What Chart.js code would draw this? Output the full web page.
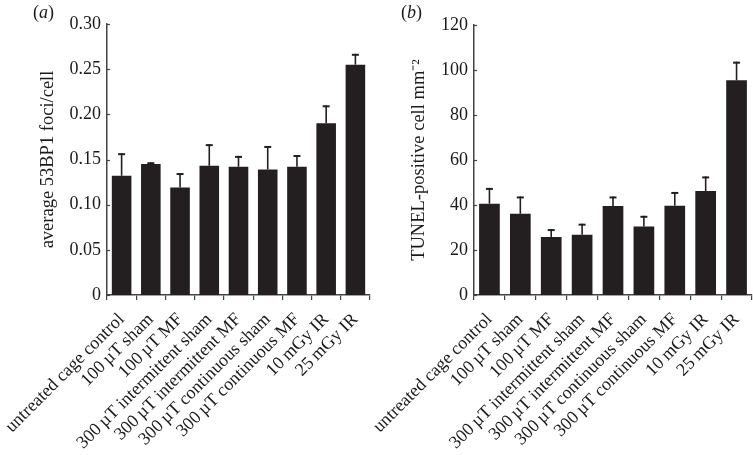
<!DOCTYPE html>
<html>
<head>
<meta charset="utf-8">
<script src="https://cdn.jsdelivr.net/npm/chart.js@4.4.0/dist/chart.umd.min.js"></script>
<style>
  body { margin: 0; background: #fff; }
  #wrap { position: relative; width: 753px; height: 455px; overflow: hidden; }
  canvas { position: absolute; top: 0; }
  #chartA { left: 0; }
  #chartB { left: 300px; }
  .panel { position: absolute; top: 2px; font: 18px "Liberation Serif", serif; color: #1a1a1a; }
  .panel i { font-style: italic; }
</style>
</head>
<body>
<div id="wrap">
  <canvas id="chartA" width="380" height="455"></canvas>
  <canvas id="chartB" width="453" height="455"></canvas>
  <div class="panel" style="left:33px">(<i>a</i>)</div>
  <div class="panel" style="left:401px">(<i>b</i>)</div>
</div>
<script>
const groups = [
    'untreated cage control',
    '100\u2009µT sham',
    '100\u2009µT MF',
    '300\u2009µT intermittent sham',
    '300\u2009µT intermittent MF',
    '300\u2009µT continuous sham',
    '300\u2009µT continuous MF',
    '10\u2009mGy IR',
    '25\u2009mGy IR'
];

// (a) 53BP1 foci
const fociMean = [0.132, 0.145, 0.119, 0.143, 0.142, 0.139, 0.142, 0.190, 0.255];
const fociErr = [0.025, 0.002, 0.016, 0.024, 0.012, 0.026, 0.013, 0.020, 0.012];
const fociTicks = ['0', '0.05', '0.10', '0.15', '0.20', '0.25', '0.30'];

// (b) TUNEL
const tunelMean = [40.6, 36.1, 25.8, 26.8, 39.6, 30.5, 39.7, 46.2, 95.4];
const tunelErr = [7.0, 7.7, 3.5, 4.9, 4.2, 4.7, 6.1, 6.5, 8.3];
const tunelTicks = ['0', '20', '40', '60', '80', '100', '120'];

const ink = '#231f20';
const axisCol = '#444';
const textCol = '#1a1a1a';
const serif = '"Liberation Serif", "Times New Roman", serif';

// one-sided error bars + small inward y ticks
const errorBars = {
    id: 'errorBars',
    afterDatasetsDraw(chart) {
        const ctx = chart.ctx;
        const ds = chart.data.datasets[0];
        const meta = chart.getDatasetMeta(0);
        const y = chart.scales.y;
        ctx.save();
        ctx.strokeStyle = ink;
        meta.data.forEach((bar, i) => {
            const top = y.getPixelForValue(ds.data[i] + ds.errors[i]);
            ctx.lineWidth = 1.6;
            ctx.beginPath();
            ctx.moveTo(bar.x, bar.y);
            ctx.lineTo(bar.x, top);
            ctx.stroke();
            ctx.lineWidth = 2;
            ctx.beginPath();
            ctx.moveTo(bar.x - 3.5, top + 1);
            ctx.lineTo(bar.x + 3.5, top + 1);
            ctx.stroke();
        });
        ctx.strokeStyle = axisCol;
        ctx.lineWidth = 1.2;
        y.ticks.forEach(t => {
            const py = Math.round(y.getPixelForValue(t.value)) + 0.5;
            ctx.beginPath();
            ctx.moveTo(y.right, py);
            ctx.lineTo(y.right + 3, py);
            ctx.stroke();
        });
        ctx.restore();
    }
};

function makeChart(id, values, errors, tickLabels, maxY, step, title, pad, yWidth) {
    return new Chart(document.getElementById(id), {
        type: 'bar',
        data: {
            labels: groups,
            datasets: [{
                data: values,
                errors: errors,
                backgroundColor: ink,
                borderWidth: 0,
                barPercentage: 0.67,
                categoryPercentage: 1.0
            }]
        },
        options: {
            responsive: false,
            animation: false,
            layout: { padding: pad },
            plugins: {
                legend: { display: false },
                tooltip: { enabled: false }
            },
            scales: {
                x: {
                    grid: { display: true, drawOnChartArea: false, drawTicks: true, tickLength: 5, color: axisCol, lineWidth: 1.2, offset: true },
                    border: { display: true, color: axisCol, width: 1.5 },
                    ticks: {
                        color: textCol,
                        font: { family: serif, size: 18 },
                        minRotation: 45,
                        maxRotation: 45,
                        autoSkip: false,
                        padding: 9
                    },
                    afterFit(scale) {
                        scale.height = 455 - 295 - pad.bottom;
                        scale.paddingLeft = 0;
                        scale.paddingRight = 0;
                    }
                },
                y: {
                    min: 0,
                    max: maxY,
                    grid: { display: false, drawTicks: false },
                    border: { display: true, color: axisCol, width: 1.5 },
                    ticks: {
                        stepSize: step,
                        color: textCol,
                        padding: 6,
                        font: { family: serif, size: 18 },
                        callback: (v, i) => tickLabels[i]
                    },
                    title: {
                        display: true,
                        text: title,
                        color: textCol,
                        padding: 0,
                        font: { family: serif, size: 18.5 }
                    },
                    afterFit(scale) {
                        scale.width = yWidth;
                    }
                }
            }
        },
        plugins: [errorBars]
    });
}

makeChart('chartA', fociMean, fociErr, fociTicks, 0.30, 0.05,
    'average 53BP1 foci/cell', { left: 37, top: 24, right: 10, bottom: 0 }, 70);
makeChart('chartB', tunelMean, tunelErr, tunelTicks, 120, 20,
    'TUNEL-positive cell mm⁻²', { left: 108, top: 25, right: 1, bottom: 0 }, 66);
</script>
</body>
</html>
